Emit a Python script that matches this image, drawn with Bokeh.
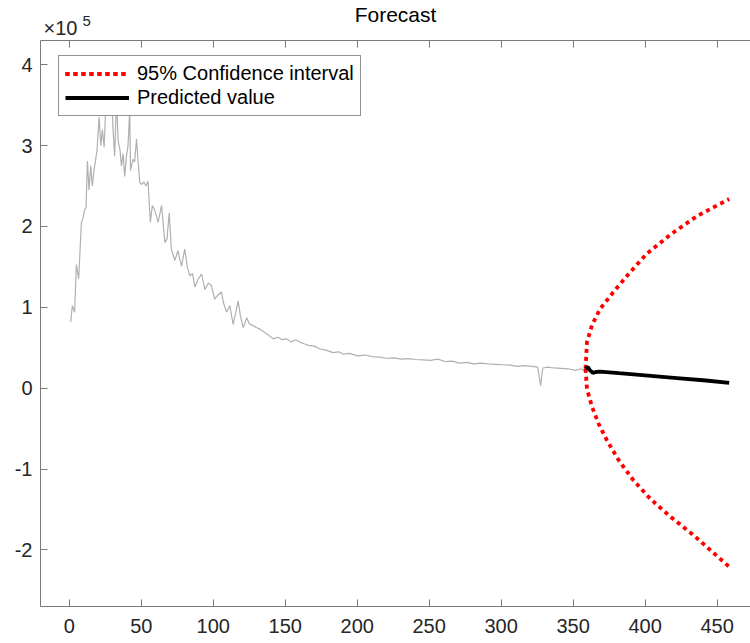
from bokeh.plotting import figure
from bokeh.layouts import column
from bokeh.models import (Range1d, FixedTicker, LinearAxis, Legend, LegendItem)
from bokeh.core.properties import value
from bokeh.embed import file_html
from bokeh.resources import INLINE

# ---- data (y values in units of 1e5) ----
hist_x = [1.0, 2.1, 3.7, 4.9, 6.5, 8.4, 9.5, 10.7, 11.6, 12.6, 13.7, 14.9, 16.0, 17.2, 19.2,
          20.7, 21.9, 23.0, 24.2, 25.6, 26.6, 27.6, 29.1, 30.4, 31.5, 32.8, 33.9, 35.2, 36.2,
          37.4, 38.5, 39.7, 40.8, 42.0, 42.5, 44.2, 45.4, 46.7, 47.8, 49.0, 50.3, 51.8, 53.3,
          54.7, 56.3, 57.7, 59.4, 61.7, 64.1, 66.4, 67.9, 69.4, 70.9, 73.3, 75.5, 76.7, 78.0, 80.2,
          82.0, 83.7, 85.6, 87.2, 89.6, 91.9, 94.2, 96.6, 98.7, 101.0, 103.2, 105.6, 107.2, 109.2,
          111.5, 113.8, 115.8, 117.3, 118.8, 120.8, 123.3, 124.9, 126.9, 129.9, 132.4, 134.9, 138.0, 141.7,
          145.0, 148.0, 151.0, 154.1, 157.1, 160.1, 163.1, 166.2, 170.2, 174.2, 178.3, 183.3, 187.3, 190.4, 194.4, 200.4,
          205.5, 210.5, 215.5, 220.6, 225.6, 230.7, 235.7, 240.7, 245.8, 250.8, 255.9, 260.9, 265.9, 271.0, 276.0, 281.0,
          286.1, 291.1, 296.2, 301.2, 306.2, 311.3, 316.3, 321.4, 325.4, 327.4, 328.9, 332.4, 336.5, 341.5, 346.5, 351.6,
          355.6, 358.6]
hist_y = [0.815, 1.02, 0.94, 1.53, 1.35, 2.05, 2.10, 2.21, 2.23, 2.81, 2.45, 2.75, 2.50, 2.70, 2.93,
          3.35, 3.00, 3.20, 2.98, 3.60, 3.90, 3.50, 3.75, 3.20, 2.87, 3.60, 3.06, 2.95, 2.75,
          2.90, 2.62, 2.87, 3.00, 3.45, 2.69, 2.83, 2.80, 3.08, 2.80, 2.54, 2.52, 2.55, 2.50,
          2.56, 2.05, 2.26, 2.20, 2.05, 2.26, 1.80, 1.85, 2.17, 1.72, 1.58, 1.70, 1.60, 1.51, 1.72,
          1.50, 1.39, 1.42, 1.25, 1.35, 1.41, 1.22, 1.30, 1.27, 1.10, 1.15, 1.19, 1.05, 0.94,
          1.02, 0.79, 0.95, 1.08, 0.90, 0.75, 0.87, 0.80, 0.78, 0.75, 0.73, 0.70, 0.66, 0.61,
          0.63, 0.60, 0.61, 0.57, 0.60, 0.57, 0.55, 0.53, 0.52, 0.485, 0.47, 0.44, 0.45, 0.42, 0.43, 0.40,
          0.41, 0.39, 0.385, 0.37, 0.375, 0.36, 0.365, 0.355, 0.35, 0.345, 0.36, 0.33, 0.335, 0.31, 0.32, 0.30,
          0.31, 0.30, 0.295, 0.29, 0.285, 0.27, 0.28, 0.27, 0.26, 0.03, 0.25, 0.26, 0.25, 0.245, 0.24, 0.22,
          0.24, 0.20]

pred_x = [358.6, 360.2, 361.7, 363.7, 365.7, 368.7, 381.8, 402.0, 422.1, 442.3, 458.4]
pred_y = [0.24, 0.26, 0.22, 0.19, 0.20, 0.205, 0.185, 0.155, 0.125, 0.095, 0.065]

upper_x = [358.6, 359.6, 363.1, 368.7, 377.8, 388.4, 401.0, 417.6, 436.2, 458.4]
upper_y = [0.24, 0.57, 0.78, 0.98, 1.185, 1.41, 1.66, 1.90, 2.13, 2.34]

lower_x = [358.6, 359.6, 363.1, 367.7, 373.6, 381.6, 391.9, 403.7, 417.6, 433.8, 458.4]
lower_y = [0.24, -0.01, -0.23, -0.44, -0.65, -0.89, -1.14, -1.37, -1.59, -1.82, -2.21]

x_ticks = [0, 50, 100, 150, 200, 250, 300, 350, 400, 450]
y_ticks = [-2, -1, 0, 1, 2, 3, 4]
y_tick_labels = {-2: "-2", -1: "-1", 0: "0", 1: "1", 2: "2", 3: "3", 4: "4"}

title_text = "Forecast"
exp_base = "×10"
exp_power = "5"

FONT = "Liberation Sans"
AX = "#7a7a7a"
TXT = "#262626"

# ---- header strip (title and axis exponent); its frame aligns with the plot frame ----
HEAD_H = 39
head = figure(width=750, height=HEAD_H, output_backend="svg", toolbar_location=None,
              x_range=Range1d(0, 710), y_range=Range1d(0, HEAD_H),
              min_border_left=40, min_border_right=0, min_border_top=0, min_border_bottom=0,
              x_axis_type=None, y_axis_type=None)
head.outline_line_color = None
head.xgrid.visible = False
head.ygrid.visible = False
head.text(x=[355], y=[HEAD_H - 14], text=[title_text], text_font=value(FONT),
          text_font_size="21px", text_color="#000000", text_align="center",
          text_baseline="middle")
head.text(x=[3], y=[HEAD_H - 27], text=[exp_base], text_font=value(FONT),
          text_font_size="20px", text_color=TXT, text_align="left", text_baseline="middle")
head.text(x=[42], y=[HEAD_H - 20], text=[exp_power], text_font=value(FONT),
          text_font_size="15px", text_color=TXT, text_align="left", text_baseline="middle")

# ---- main plot ----
p = figure(width=750, height=643 - HEAD_H, output_backend="svg", toolbar_location=None,
           x_range=Range1d(-20, 473.2), y_range=Range1d(-2.7, 4.3),
           min_border_left=40, min_border_right=0, min_border_top=1, min_border_bottom=37,
           x_axis_type=None, y_axis_type=None)
p.outline_line_color = None
p.xgrid.visible = False
p.ygrid.visible = False
p.background_fill_color = "white"
p.border_fill_color = "white"

def style_axis(ax):
    ax.axis_line_color = AX
    ax.axis_line_width = 1
    ax.major_tick_line_color = AX
    ax.major_tick_in = 7
    ax.major_tick_out = 0
    ax.minor_tick_line_color = None
    ax.major_label_text_font = FONT
    ax.major_label_text_color = TXT
    ax.major_label_text_font_size = "20px"

xb = LinearAxis(ticker=FixedTicker(ticks=x_ticks))
style_axis(xb)
xb.major_label_standoff = 12
p.add_layout(xb, "below")

xt = LinearAxis(ticker=FixedTicker(ticks=x_ticks),
                major_label_overrides={t: "" for t in x_ticks})
style_axis(xt)
xt.major_label_standoff = 0
p.add_layout(xt, "above")

yl = LinearAxis(ticker=FixedTicker(ticks=y_ticks), major_label_overrides=y_tick_labels)
style_axis(yl)
yl.major_label_standoff = 8
p.add_layout(yl, "left")

p.line(hist_x, hist_y, line_color="#b0b0b0", line_width=1.2)
r_up = p.line(upper_x, upper_y, line_color="#ff0000", line_width=3.8, line_dash="4 4")
r_lo = p.line(lower_x, lower_y, line_color="#ff0000", line_width=3.8, line_dash="4 4")
r_pred = p.line(pred_x, pred_y, line_color="#000000", line_width=3.8)

legend = Legend(items=[LegendItem(label="95% Confidence interval", renderers=[r_up, r_lo]),
                       LegendItem(label="Predicted value", renderers=[r_pred])],
                location=(18, 490), margin=0, padding=6, spacing=1,
                glyph_width=64, glyph_height=23, label_standoff=8,
                label_text_font=FONT, label_text_font_size="20px", label_text_color="#000000",
                border_line_color="#262626", border_line_width=1,
                background_fill_color="white", background_fill_alpha=1.0)
p.add_layout(legend, "center")

layout = column(head, p, spacing=0)
open("out.html", "w").write(file_html(layout, INLINE))
